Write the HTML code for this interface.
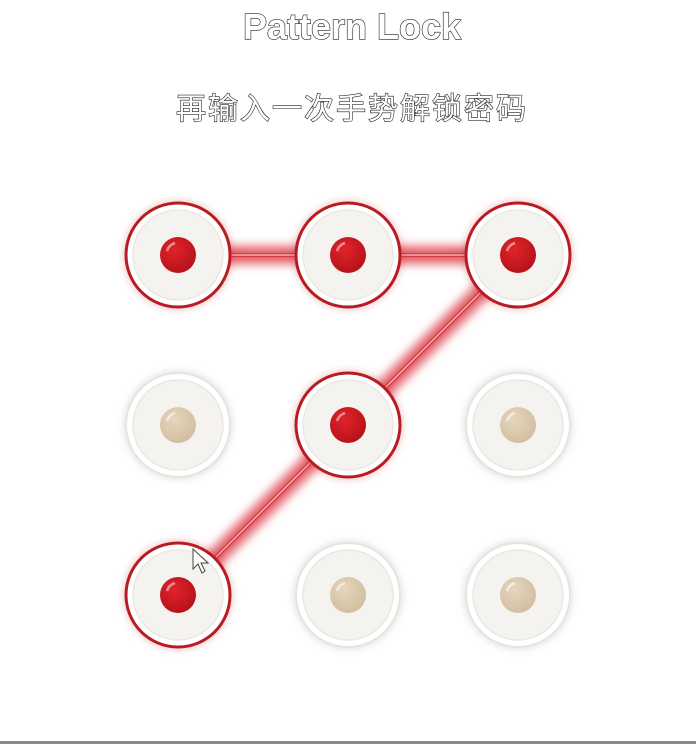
<!DOCTYPE html>
<html><head><meta charset="utf-8">
<style>
html,body{margin:0;padding:0;background:#fff;width:696px;height:744px;overflow:hidden}
svg{display:block}
</style></head>
<body>
<svg width="696" height="744" viewBox="0 0 696 744" xmlns="http://www.w3.org/2000/svg">
<defs>
  <filter id="glow" filterUnits="userSpaceOnUse" x="0" y="0" width="696" height="744"><feGaussianBlur stdDeviation="4"/></filter>
  <radialGradient id="redDot" cx="40%" cy="35%" r="65%"><stop offset="0" stop-color="#e0242a"/><stop offset="1" stop-color="#b8121a"/></radialGradient>
  <radialGradient id="tanDot" cx="40%" cy="35%" r="65%"><stop offset="0" stop-color="#e6d6bd"/><stop offset="1" stop-color="#d2bfa2"/></radialGradient>
</defs>
<text x="352" y="39" text-anchor="middle" font-family="Liberation Sans, sans-serif" font-weight="bold" font-size="36" fill="#fff" stroke="#222" stroke-width="1.2" paint-order="stroke">Pattern Lock</text>
<text x="352" y="119" text-anchor="middle" font-family="Liberation Sans, Noto Sans CJK SC, sans-serif" font-size="30" letter-spacing="2" fill="#fff" stroke="#222" stroke-width="1.2" paint-order="stroke">再输入一次手势解锁密码</text>
<g id="lines"></g>
<g id="nodes"></g>
<g transform="translate(193,549)">
  <path d="M0 0 L0 20 L5 15 L9 24 L12 22 L8 14 L15 14 Z" fill="#fff" stroke="#444" stroke-width="1"/>
</g>
<rect x="0" y="741" width="696" height="3" fill="#8a8a8a"/>
</svg>
<script>
const cols=[178,348,518];
const rows=[255,425,595];
const pattern=[0,1,2,4,6];
const NS='http://www.w3.org/2000/svg';
const pos=i=>[cols[i%3],rows[Math.floor(i/3)]];
const lines=document.getElementById('lines');
for(let k=0;k<pattern.length-1;k++){
  const a=pos(pattern[k]),b=pos(pattern[k+1]);
  [[22,'rgba(225,80,90,0.55)',true],[8,'rgba(215,50,60,0.8)',true],[4,'#d43a44',false],[1.5,'#f4b0b4',false]].forEach(([w,c,f])=>{
    const l=document.createElementNS(NS,'line');
    
    
    l.setAttribute('x1',a[0]);l.setAttribute('y1',a[1]);l.setAttribute('x2',b[0]);l.setAttribute('y2',b[1]);
    l.setAttribute('stroke',c);l.setAttribute('stroke-width',w);
    if(f)l.setAttribute('filter','url(#glow)');
    lines.appendChild(l);
  });
}
const nodes=document.getElementById('nodes');
for(let i=0;i<9;i++){
  const [x,y]=pos(i);const on=pattern.includes(i);
  const g=document.createElementNS(NS,'g');
  
  
  const add=(r,fill,stroke,sw,extra)=>{const c=document.createElementNS(NS,'circle');c.setAttribute('cx',x);c.setAttribute('cy',y);c.setAttribute('r',r);c.setAttribute('fill',fill);if(stroke){c.setAttribute('stroke',stroke);c.setAttribute('stroke-width',sw);}if(extra)c.setAttribute('filter',extra);g.appendChild(c);};
  add(54,on?'rgba(180,30,40,0.25)':'rgba(0,0,0,0.12)',null,0,'url(#glow)');
  add(52,'#fff',on?'#b81c22':'#e6e4e0',on?3:2);
  add(45,'#f5f3f0','#ebe8e3',1.5);
  add(18,on?'url(#redDot)':'url(#tanDot)');
  const h=document.createElementNS(NS,'path');
  h.setAttribute('d',`M${x-11} ${y-4} A12 12 0 0 1 ${x-3} ${y-12}`);
  h.setAttribute('stroke',on?'#f08a8e':'#f4ece0');h.setAttribute('stroke-width','2.5');h.setAttribute('fill','none');
  g.appendChild(h);
  nodes.appendChild(g);
}
</script>
</body></html>
